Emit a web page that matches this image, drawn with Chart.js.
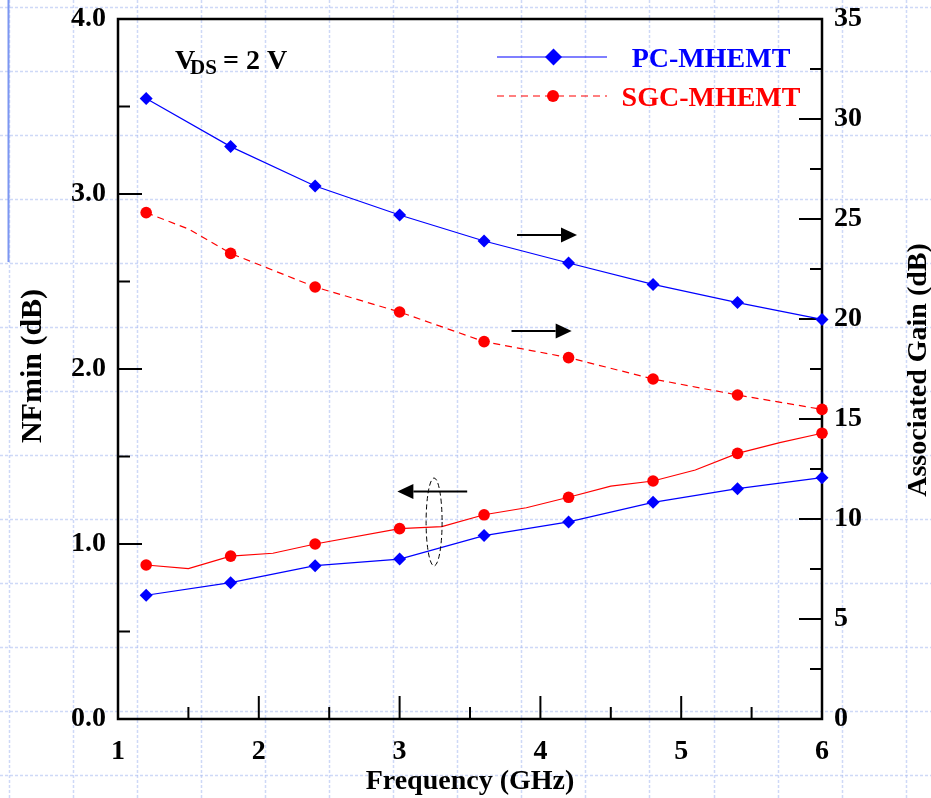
<!DOCTYPE html>
<html><head><meta charset="utf-8">
<script src="https://cdn.jsdelivr.net/npm/chart.js@4.4.0/dist/chart.umd.min.js"></script>
<style>html,body{margin:0;padding:0;background:#fff;}canvas{display:block}</style>
</head><body>
<canvas id="c" width="931" height="798"></canvas>
<script>
// ---- data ----
const markerFreqs = [1.2, 1.8, 2.4, 3.0, 3.6, 4.2, 4.8, 5.4, 6.0];
const pcNfFreq    = [1.2, 1.8, 2.4, 3.0, 3.6, 4.2, 4.8, 5.4, 6.0];
const pcNf        = [0.707, 0.779, 0.876, 0.914, 1.048, 1.126, 1.238, 1.316, 1.379];
const sgcNfFreq   = [1.2, 1.5, 1.8, 2.1, 2.4, 3.0, 3.3, 3.6, 3.9, 4.2, 4.5, 4.8, 5.1, 5.4, 5.7, 6.0];
const sgcNf       = [0.880, 0.859, 0.931, 0.947, 1.000, 1.088, 1.099, 1.167, 1.207, 1.267, 1.331, 1.360, 1.423, 1.518, 1.579, 1.633];
const pcGainFreq  = [1.2, 1.8, 2.4, 3.0, 3.6, 4.2, 4.8, 5.4, 6.0];
const pcGain      = [31.03, 28.62, 26.65, 25.2, 23.9, 22.8, 21.73, 20.82, 19.98];
const sgcGainFreq = [1.2, 1.5, 1.8, 2.4, 3.0, 3.6, 4.2, 4.8, 5.4, 6.0];
const sgcGain     = [25.32, 24.5, 23.28, 21.6, 20.35, 18.87, 18.07, 17.0, 16.2, 15.48];
const seriesNames = ['PC-MHEMT', 'SGC-MHEMT'];
const xRange = [1, 6], nfRange = [0, 4], gainRange = [0, 35];
const xStep = 1, nfStep = 1, gainStep = 5;
const xTitle = 'Frequency (GHz)', nfTitle = 'NFmin (dB)', gainTitle = 'Associated Gain (dB)';

// annotation positions in data units
const arrowsGain = [ {from: 3.834, to: 4.26, y: 24.2}, {from: 3.795, to: 4.222, y: 19.4} ];
const arrowsNf   = [ {from: 3.48, to: 2.984, y: 1.30} ];
const ellipseNf  = {x: 3.245, y: 1.126, ry: 0.251};

const BLUE = '#0000ff', RED = '#ff0000';
const FONT = '"Liberation Serif", "Times New Roman", serif';
const pts = (xs, ys) => xs.map((f, i) => ({x: f, y: ys[i]}));
const mr = r => (c => (c.raw && markerFreqs.includes(c.raw.x)) ? r : 0);

const bgPlugin = {
  id: 'bg',
  beforeDraw(chart) {
    const ctx = chart.ctx, W = chart.width, H = chart.height;
    ctx.save();
    ctx.fillStyle = '#fff';
    ctx.fillRect(0, 0, W, H);
    ctx.strokeStyle = 'rgba(165,185,240,0.55)';
    ctx.lineWidth = 1.5;
    ctx.setLineDash([3, 2]);
    for (let x = 9; x < W; x += 64.05) {
      ctx.beginPath(); ctx.moveTo(Math.round(x) + 0.5, 0); ctx.lineTo(Math.round(x) + 0.5, H); ctx.stroke();
    }
    for (let y = 7; y < H; y += 64) {
      ctx.beginPath(); ctx.moveTo(0, Math.round(y) + 0.5); ctx.lineTo(W, Math.round(y) + 0.5); ctx.stroke();
    }
    ctx.setLineDash([]);
    ctx.strokeStyle = '#7d97f2';
    ctx.lineWidth = 2;
    ctx.beginPath(); ctx.moveTo(8.5, 0); ctx.lineTo(8.5, 262); ctx.stroke();
    ctx.restore();
  }
};

const framePlugin = {
  id: 'frame',
  beforeDatasetsDraw(chart) {
    const ctx = chart.ctx, a = chart.chartArea;
    const sx = chart.scales.x, sy = chart.scales.y, sy2 = chart.scales.y2;
    ctx.save();
    ctx.strokeStyle = '#000';
    ctx.lineCap = 'square';
    ctx.lineWidth = 2.5;
    ctx.strokeRect(a.left, a.top, a.right - a.left, a.bottom - a.top);
    ctx.lineWidth = 2;
    ctx.lineCap = 'butt';
    for (let v = xRange[0]; v <= xRange[1] + 1e-9; v += xStep / 2) {
      const major = Math.abs(v - Math.round(v)) < 1e-9;
      const px = sx.getPixelForValue(v);
      ctx.beginPath(); ctx.moveTo(px, a.bottom); ctx.lineTo(px, a.bottom - (major ? 23 : 12)); ctx.stroke();
    }
    for (let v = nfRange[0]; v <= nfRange[1] + 1e-9; v += nfStep / 2) {
      const major = Math.abs(v - Math.round(v)) < 1e-9;
      const py = sy.getPixelForValue(v);
      ctx.beginPath(); ctx.moveTo(a.left, py); ctx.lineTo(a.left + (major ? 24 : 12), py); ctx.stroke();
    }
    for (let v = gainRange[0]; v <= gainRange[1] + 1e-9; v += gainStep / 2) {
      const major = Math.abs(v / gainStep - Math.round(v / gainStep)) < 1e-9;
      const py = sy2.getPixelForValue(v);
      ctx.beginPath(); ctx.moveTo(a.right, py); ctx.lineTo(a.right - (major ? 23 : 12), py); ctx.stroke();
    }
    ctx.restore();
  },
  afterDraw(chart) {
    const ctx = chart.ctx, a = chart.chartArea;
    const sx = chart.scales.x, sy = chart.scales.y, sy2 = chart.scales.y2;
    ctx.save();
    ctx.fillStyle = '#000';
    ctx.textAlign = 'center'; ctx.textBaseline = 'alphabetic';
    ctx.font = 'bold 28px ' + FONT;
    ctx.fillText(xTitle, (a.left + a.right) / 2, 789);
    ctx.save(); ctx.font = 'bold 30px ' + FONT; ctx.translate(41, 366); ctx.rotate(-Math.PI / 2);
    ctx.fillText(nfTitle, 0, 0); ctx.restore();
    ctx.save(); ctx.font = 'bold 28px ' + FONT; ctx.translate(926, 370); ctx.rotate(-Math.PI / 2);
    ctx.fillText(gainTitle, 0, 0); ctx.restore();

    ctx.textAlign = 'left';
    ctx.font = 'bold 28px ' + FONT;
    ctx.fillText('V', 175, 69);
    ctx.font = 'bold 21px ' + FONT;
    ctx.fillText('DS', 190, 74);
    ctx.font = 'bold 28px ' + FONT;
    ctx.fillText('= 2 V', 223, 69);

    const leg = [
      {y: 57, color: BLUE, dash: [], name: seriesNames[0], shape: 'diamond', ty: 67},
      {y: 96, color: RED, dash: [7, 5], name: seriesNames[1], shape: 'circle', ty: 106}
    ];
    leg.forEach(l => {
      ctx.strokeStyle = l.color; ctx.fillStyle = l.color; ctx.lineWidth = 1.2;
      ctx.setLineDash(l.dash);
      ctx.beginPath(); ctx.moveTo(497, l.y); ctx.lineTo(607, l.y); ctx.stroke();
      ctx.setLineDash([]);
      ctx.beginPath();
      if (l.shape === 'diamond') {
        const r = 8.5, cx = 553.5;
        ctx.moveTo(cx - r, l.y); ctx.lineTo(cx, l.y - r); ctx.lineTo(cx + r, l.y); ctx.lineTo(cx, l.y + r); ctx.closePath();
      } else {
        ctx.arc(553, l.y, 6, 0, Math.PI * 2);
      }
      ctx.fill();
      ctx.font = 'bold 28px ' + FONT;
      ctx.textAlign = 'center';
      ctx.fillText(l.name, 711, l.ty);
    });

    ctx.strokeStyle = '#000'; ctx.fillStyle = '#000'; ctx.lineWidth = 2;
    const arrow = (x1, x2, y) => {
      const dir = Math.sign(x2 - x1), hl = 16, hw = 7.5;
      ctx.beginPath(); ctx.moveTo(x1, y); ctx.lineTo(x2 - dir * hl, y); ctx.stroke();
      ctx.beginPath(); ctx.moveTo(x2, y); ctx.lineTo(x2 - dir * hl, y - hw); ctx.lineTo(x2 - dir * hl, y + hw); ctx.closePath(); ctx.fill();
    };
    arrowsGain.forEach(r => arrow(sx.getPixelForValue(r.from), sx.getPixelForValue(r.to), sy2.getPixelForValue(r.y)));
    arrowsNf.forEach(r => arrow(sx.getPixelForValue(r.from), sx.getPixelForValue(r.to), sy.getPixelForValue(r.y)));
    const ex = sx.getPixelForValue(ellipseNf.x), ey = sy.getPixelForValue(ellipseNf.y);
    const ery = Math.abs(sy.getPixelForValue(ellipseNf.y + ellipseNf.ry) - ey);
    ctx.lineWidth = 1; ctx.setLineDash([5, 3]);
    ctx.beginPath(); ctx.ellipse(ex, ey, 8, ery, 0, 0, Math.PI * 2); ctx.stroke();
    ctx.restore();
  }
};

const tickFont = {family: FONT, size: 28, weight: 'bold'};
const fitV = w => (s => { s.width = w; s.paddingTop = 0; s.paddingBottom = 0; });

new Chart(document.getElementById('c'), {
  type: 'line',
  data: {
    datasets: [
      {label: seriesNames[0] + ' NFmin', data: pts(pcNfFreq, pcNf), yAxisID: 'y',
       borderColor: BLUE, backgroundColor: BLUE, borderWidth: 1.2, pointStyle: 'rectRot',
       pointRadius: mr(6.5), pointBorderWidth: 0, tension: 0, clip: false},
      {label: seriesNames[1] + ' NFmin', data: pts(sgcNfFreq, sgcNf), yAxisID: 'y',
       borderColor: RED, backgroundColor: RED, borderWidth: 1.2, pointStyle: 'circle',
       pointRadius: mr(5.8), pointBorderWidth: 0, tension: 0, clip: false},
      {label: seriesNames[0] + ' Gain', data: pts(pcGainFreq, pcGain), yAxisID: 'y2',
       borderColor: BLUE, backgroundColor: BLUE, borderWidth: 1.2, pointStyle: 'rectRot',
       pointRadius: mr(6.5), pointBorderWidth: 0, tension: 0, clip: false},
      {label: seriesNames[1] + ' Gain', data: pts(sgcGainFreq, sgcGain), yAxisID: 'y2',
       borderColor: RED, backgroundColor: RED, borderWidth: 1.2, borderDash: [7, 5], pointStyle: 'circle',
       pointRadius: mr(5.8), pointBorderWidth: 0, tension: 0, clip: false}
    ]
  },
  options: {
    responsive: false, animation: false, devicePixelRatio: 1,
    layout: {padding: {top: 19, left: 0, right: 0, bottom: 0}},
    plugins: {legend: {display: false}, tooltip: {enabled: false}},
    scales: {
      x: {type: 'linear', position: 'bottom', min: xRange[0], max: xRange[1],
          ticks: {stepSize: xStep, font: tickFont, color: '#000', padding: 16, maxRotation: 0, autoSkip: false},
          grid: {display: false, drawTicks: false}, border: {display: false},
          afterFit(s) { s.height = 79; s.paddingLeft = 0; s.paddingRight = 0; }},
      y: {type: 'linear', position: 'left', min: nfRange[0], max: nfRange[1],
          ticks: {stepSize: nfStep, font: tickFont, color: '#000', padding: 12, callback: v => v.toFixed(1)},
          grid: {display: false, drawTicks: false}, border: {display: false},
          afterFit: fitV(118)},
      y2: {type: 'linear', position: 'right', min: gainRange[0], max: gainRange[1],
          ticks: {stepSize: gainStep, font: tickFont, color: '#000', padding: 12},
          grid: {display: false, drawTicks: false}, border: {display: false},
          afterFit: fitV(109)}
    }
  },
  plugins: [bgPlugin, framePlugin]
});
</script>
</body></html>
